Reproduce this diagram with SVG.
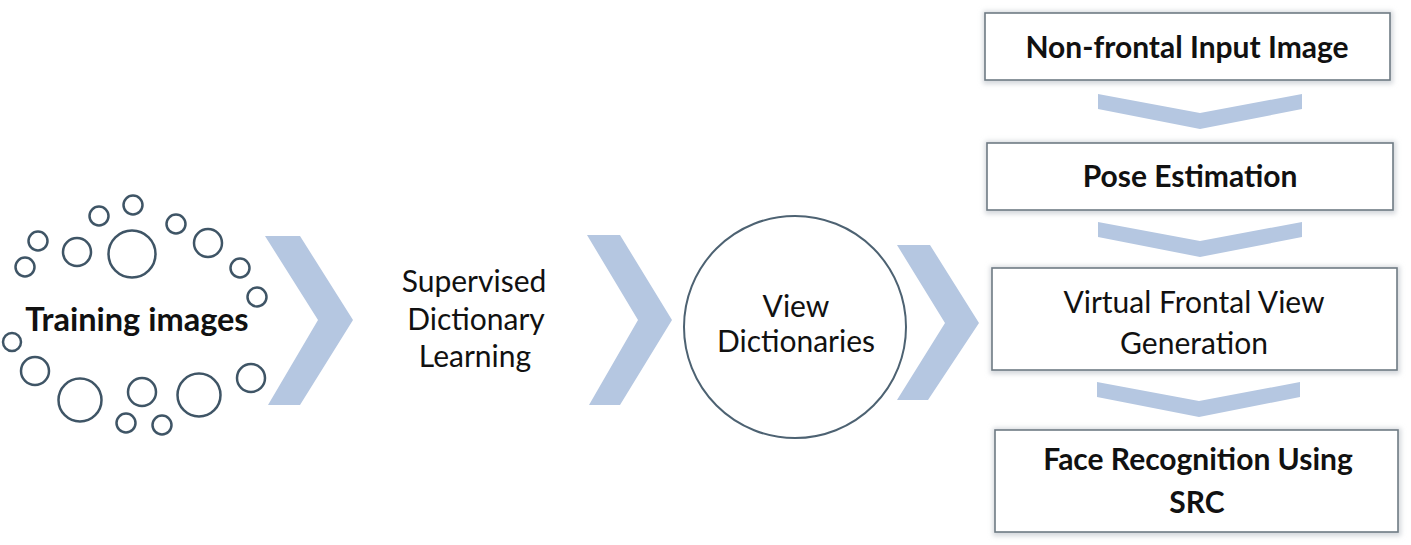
<svg xmlns="http://www.w3.org/2000/svg" width="1411" height="545" viewBox="0 0 1411 545">
  <defs>
    <style>
      .dot { fill: none; stroke: #3f5566; stroke-width: 2.5; }
      .chev { fill: #b5c7e1; }
      .box { fill: #ffffff; stroke: #6f7b84; stroke-width: 1.6; }
      .halo { fill: #d3d7db; filter: url(#blur); }
      .big { fill: #ffffff; stroke: #4d6272; stroke-width: 2; }
      .t { font-family: Lato, "Open Sans", "Liberation Sans", sans-serif; font-size: 30px; fill: #111111; text-anchor: middle; }
      .b { font-weight: bold; }
    </style>
    <filter id="blur" x="-5%" y="-20%" width="110%" height="140%">
      <feGaussianBlur stdDeviation="2.5"/>
    </filter>
  </defs>

  <rect width="1411" height="545" fill="#ffffff"/>

  <g id="connectors">
    <polygon class="chev" points="265,236 300,236 353,320 300,405 268,405 318,320"/>
    <polygon class="chev" points="587,235 620,235 672,320 620,405 589,405 638,320"/>
    <polygon class="chev" points="897,245 930,245 979,323 928,400 897,400 945,323"/>
    <polygon class="chev" points="1098,94 1200,113 1302,94 1302,109 1200,129 1098,109"/>
    <polygon class="chev" points="1098,222 1200,241 1302,222 1302,237 1200,257 1098,237"/>
    <polygon class="chev" points="1097,382 1199,401 1300,382 1300,397 1199,417 1097,397"/>
  </g>

  <g id="training-images">
    <circle class="dot" cx="133" cy="205" r="9.5"/>
    <circle class="dot" cx="99" cy="216" r="9.5"/>
    <circle class="dot" cx="176" cy="224" r="9.5"/>
    <circle class="dot" cx="38" cy="241" r="9.5"/>
    <circle class="dot" cx="208" cy="243" r="14"/>
    <circle class="dot" cx="77" cy="252" r="14"/>
    <circle class="dot" cx="132" cy="254" r="23.5"/>
    <circle class="dot" cx="25" cy="267" r="9.5"/>
    <circle class="dot" cx="240" cy="268" r="9.5"/>
    <circle class="dot" cx="257" cy="297" r="9.5"/>
    <circle class="dot" cx="12" cy="342" r="9"/>
    <circle class="dot" cx="35" cy="371" r="14"/>
    <circle class="dot" cx="251" cy="378" r="14"/>
    <circle class="dot" cx="80" cy="400" r="21.5"/>
    <circle class="dot" cx="142" cy="392" r="14"/>
    <circle class="dot" cx="199" cy="395" r="21.5"/>
    <circle class="dot" cx="126" cy="423" r="9.5"/>
    <circle class="dot" cx="162" cy="425" r="9.5"/>
    <text class="t b" x="137" y="331" style="font-size:32.5px">Training images</text>
  </g>

  <g id="supervised-dictionary-learning">
    <text class="t" x="474" y="292">Supervised</text>
    <text class="t" x="476" y="330">Dictionary</text>
    <text class="t" x="475" y="367">Learning</text>
  </g>

  <g id="view-dictionaries">
    <circle class="big" cx="795" cy="327" r="111"/>
    <text class="t" x="796" y="317">View</text>
    <text class="t" x="796" y="352">Dictionaries</text>
  </g>

  <g id="non-frontal-input">
    <rect class="halo" x="983" y="11" width="410" height="73"/>
    <rect class="box" x="985" y="13" width="405" height="67"/>
    <text class="t b" x="1187" y="58">Non-frontal Input Image</text>
  </g>

  <g id="pose-estimation">
    <rect class="halo" x="985" y="141" width="411" height="73"/>
    <rect class="box" x="987" y="143" width="406" height="67"/>
    <text class="t b" x="1190" y="187">Pose Estimation</text>
  </g>

  <g id="virtual-frontal-view">
    <rect class="halo" x="990" y="266" width="410" height="108"/>
    <rect class="box" x="992" y="268" width="405" height="102"/>
    <text class="t" x="1194" y="313">Virtual Frontal View</text>
    <text class="t" x="1194" y="354">Generation</text>
  </g>

  <g id="face-recognition">
    <rect class="halo" x="993" y="428" width="408" height="108"/>
    <rect class="box" x="995" y="430" width="403" height="102"/>
    <text class="t b" x="1198" y="470">Face Recognition Using</text>
    <text class="t b" x="1197" y="513">SRC</text>
  </g>
</svg>
